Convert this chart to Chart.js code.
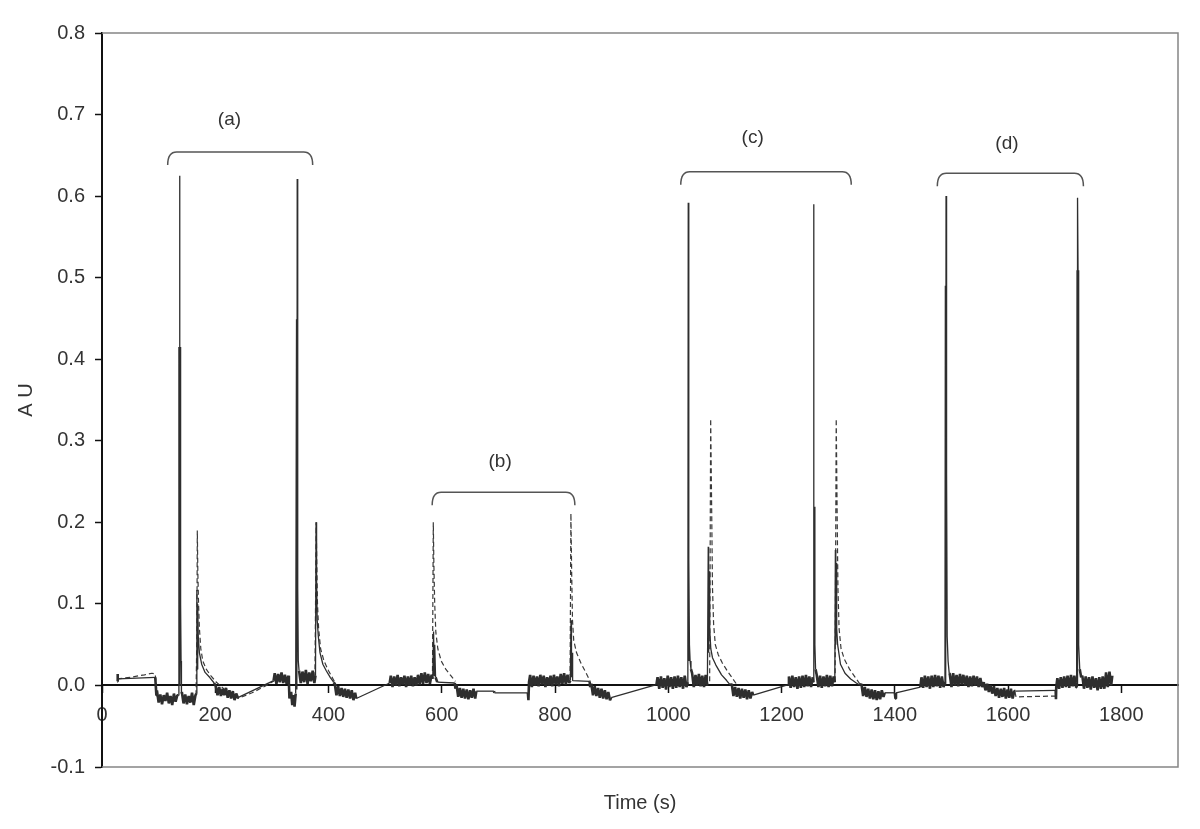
<!DOCTYPE html>
<html><head><meta charset="utf-8">
<script src="https://cdn.jsdelivr.net/npm/chart.js@4/dist/chart.umd.min.js"></script>
<style>html,body{margin:0;padding:0;background:#fff}#wrap{width:1200px;height:829px}</style>
</head><body><div id="wrap"><canvas id="c" width="1200" height="829"></canvas></div>
<script>
// ---- axis ticks ----
const xTicks = [0, 200, 400, 600, 800, 1000, 1200, 1400, 1600, 1800];
const yTicks = [-0.1, 0.0, 0.1, 0.2, 0.3, 0.4, 0.5, 0.6, 0.7, 0.8];

// ---- solid trace [time (s), AU] ----
const solidTrace = [
 [27,0.005],[27.5,0.014],[28,0.008],[94,0.010],[96,-0.012],
 [97,-0.006],[100,-0.021],[103,-0.011],[106,-0.023],[109,-0.012],[112,-0.019],[115,-0.009],[118,-0.022],[121,-0.013],[124,-0.024],[127,-0.010],[130,-0.020],[133,-0.012],
 [134.5,-0.012],[135.8,0.415],[136.4,0.0],[137,0.625],[137.6,0.24],[138.2,0.415],[138.8,0.1],[139.6,0.03],[140.3,-0.01],
 [141,-0.008],[144,-0.022],[147,-0.011],[150,-0.023],[153,-0.013],[156,-0.021],[159,-0.009],[162,-0.024],[165,-0.012],
 [166.5,-0.01],[167.5,0.117],[168.3,0.02],[169,0.1],[170,0.06],[172,0.04],[176,0.026],[182,0.016],[190,0.01],[198,0.003],
 [201,-0.001],[204,-0.012],[207,-0.002],[210,-0.013],[213,-0.004],[216,-0.012],[219,-0.003],[222,-0.015],[225,-0.006],[228,-0.016],[231,-0.007],[234,-0.018],[237,-0.010],
 [240,-0.015],[303,0.006],
 [305,0.015],[308,0.002],[311,0.014],[314,0.004],[317,0.016],[320,0.003],[323,0.013],[326,0.002],[329,0.012],
 [330,0.004],[331,-0.016],
 [334,-0.008],[336,-0.024],[338,-0.012],[340,-0.026],[342,-0.010],
 [343.5,0.449],[344.1,-0.005],[344.7,0.621],[345.3,0.436],[345.9,0.12],[346.6,0.03],
 [348,0.018],[351,0.003],[354,0.017],[357,0.004],[360,0.019],[363,0.002],[366,0.016],[369,0.005],[372,0.018],[375,0.003],
 [377,0.012],[378,0.2],[378.6,0.1],[379.2,0.13],[380,0.08],[382,0.06],[385,0.04],[390,0.026],[396,0.018],[403,0.01],[409,0.004],
 [411,0.002],[414,-0.012],[417,-0.001],[420,-0.013],[423,-0.003],[426,-0.014],[429,-0.004],[432,-0.015],[435,-0.005],[438,-0.016],[441,-0.006],[444,-0.018],[447,-0.009],
 [449,-0.016],[508,0.003],
 [510,0.012],[513,-0.002],[516,0.011],[519,0.0],[522,0.013],[525,-0.001],[528,0.01],[531,0.001],[534,0.012],[537,-0.002],[540,0.011],[543,0.0],[546,0.012],[549,-0.001],[552,0.01],[555,0.0],[558,0.013],[561,0.001],[564,0.015],[567,0.002],[570,0.016],[573,0.003],[576,0.014],[579,0.002],[582,0.013],
 [584,0.008],[585.5,0.066],[586.5,0.012],[587.5,0.05],[589,0.01],[592,0.004],[623,0.003],[624,-0.004],
 [626,0.001],[629,-0.014],[632,-0.003],[635,-0.015],[638,-0.004],[641,-0.016],[644,-0.005],[647,-0.017],[650,-0.006],[653,-0.015],[656,-0.004],[659,-0.016],
 [661,-0.007],[692,-0.007],[693,-0.009],[752,-0.009],[753,-0.018],[754,0.004],
 [756,0.013],[759,-0.002],[762,0.012],[765,0.0],[768,0.011],[771,-0.001],[774,0.013],[777,0.001],[780,0.012],[783,-0.002],[786,0.01],[789,0.0],[792,0.012],[795,-0.001],[798,0.013],[801,0.001],[804,0.011],[807,-0.001],[810,0.014],[813,0.002],[816,0.015],[819,0.001],[822,0.013],[825,0.003],
 [827,0.006],[828.2,0.08],[829,0.01],[830,0.04],[831,0.006],[861,0.005],[862,-0.002],
 [864,0.002],[867,-0.012],[870,-0.001],[873,-0.013],[876,-0.003],[879,-0.015],[882,-0.004],[885,-0.016],[888,-0.006],[891,-0.017],[894,-0.008],[897,-0.018],
 [899,-0.015],[979,0.001],
 [981,0.01],[984,-0.004],[987,0.011],[990,-0.003],[993,0.009],[996,-0.005],[999,0.012],[1002,-0.002],[1005,0.01],[1008,-0.004],[1011,0.011],[1014,-0.003],[1017,0.012],[1020,-0.002],[1023,0.01],[1026,-0.004],[1029,0.012],[1032,-0.002],
 [1034.5,0.004],[1035.2,0.592],[1035.8,0.03],[1036.5,0.154],[1037.3,0.05],[1038.5,0.03],[1040,0.02],
 [1042,0.015],[1045,-0.002],[1048,0.013],[1051,0.0],[1054,0.014],[1057,-0.001],[1060,0.012],[1063,-0.002],[1066,0.013],[1069,0.0],
 [1070.5,0.17],[1071.2,0.04],[1072,0.14],[1073,0.07],[1075,0.045],[1078,0.034],[1084,0.025],[1094,0.013],[1103,0.006],[1110,0.0],
 [1112,0.002],[1115,-0.013],[1118,-0.002],[1121,-0.014],[1124,-0.003],[1127,-0.016],[1130,-0.004],[1133,-0.015],[1136,-0.005],[1139,-0.017],[1142,-0.006],[1145,-0.016],[1148,-0.008],
 [1150,-0.012],[1212,0.001],
 [1213,0.011],[1216,-0.003],[1219,0.012],[1222,-0.002],[1225,0.01],[1228,-0.004],[1231,0.011],[1234,-0.003],[1237,0.012],[1240,-0.002],[1243,0.013],[1246,-0.001],[1249,0.011],[1252,-0.002],[1255,0.01],
 [1256,0.004],[1256.6,0.59],[1257.2,0.04],[1258,0.219],[1258.8,0.05],[1260,0.02],
 [1262,0.013],[1265,-0.002],[1268,0.012],[1271,-0.003],[1274,0.011],[1277,-0.001],[1280,0.013],[1283,-0.002],[1286,0.012],[1289,-0.001],[1292,0.011],
 [1294,0.004],[1295,0.166],[1295.7,0.05],[1296.4,0.15],[1297.3,0.07],[1299,0.05],[1304,0.026],[1312,0.015],[1322,0.008],[1332,0.003],[1339,0.0],
 [1341,0.002],[1344,-0.013],[1347,-0.002],[1350,-0.014],[1353,-0.004],[1356,-0.016],[1359,-0.005],[1362,-0.017],[1365,-0.006],[1368,-0.018],[1371,-0.007],[1374,-0.017],[1377,-0.006],[1380,-0.014],
 [1382,-0.009],[1400,-0.009],[1401,-0.016],[1402,-0.009],[1445,-0.002],
 [1447,0.01],[1450,-0.003],[1453,0.012],[1456,-0.002],[1459,0.011],[1462,-0.004],[1465,0.012],[1468,-0.002],[1471,0.013],[1474,-0.001],[1477,0.012],[1480,-0.003],[1483,0.011],[1486,-0.002],
 [1488.5,0.005],[1489.2,0.49],[1489.8,0.0],[1490.4,0.6],[1491,0.49],[1491.7,0.26],[1492.4,0.06],[1494,0.03],[1496,0.015],
 [1497,0.014],[1500,-0.002],[1503,0.015],[1506,0.0],[1509,0.013],[1512,-0.001],[1515,0.014],[1518,0.001],[1521,0.013],[1524,0.0],[1527,0.012],[1530,-0.002],[1533,0.011],[1536,-0.001],[1539,0.012],[1542,0.0],[1545,0.011],[1548,-0.002],[1551,0.009],[1554,-0.002],
 [1557,0.004],[1560,-0.006],[1563,0.002],[1566,-0.008],[1569,0.0],[1572,-0.01],[1575,-0.001],[1578,-0.013],[1581,-0.003],[1584,-0.015],[1587,-0.004],[1590,-0.014],[1593,-0.003],[1596,-0.016],[1599,-0.005],[1602,-0.015],[1605,-0.004],[1608,-0.016],[1611,-0.007],
 [1613,-0.007],[1684,-0.006],[1684.5,-0.017],[1685,-0.002],
 [1687,0.009],[1690,-0.004],[1693,0.01],[1696,-0.003],[1699,0.011],[1702,-0.002],[1705,0.012],[1708,-0.003],[1711,0.013],[1714,-0.001],[1717,0.012],[1720,-0.002],
 [1721,0.004],[1721.7,0.509],[1722.3,0.0],[1722.9,0.598],[1723.5,0.509],[1724.2,0.14],[1725,0.05],[1726.5,0.02],[1729,0.01],
 [1731,0.012],[1734,-0.004],[1737,0.011],[1740,-0.003],[1743,0.01],[1746,-0.005],[1749,0.011],[1752,-0.003],[1755,0.009],[1758,-0.006],[1761,0.01],[1764,-0.004],[1767,0.011],[1770,-0.004],[1773,0.016],[1776,-0.002],[1779,0.017],[1782,0.0],[1784,0.012]
];

// ---- dashed trace [time (s), AU], null = break ----
const dashedTrace = [
 [27,0.008],[50,0.010],[75,0.013],[88,0.015],[94,0.014],[96,0.0],[97,-0.012],null,
 [166,-0.012],[167.5,0.06],[168.3,0.19],[169.2,0.14],[170.5,0.1],[172,0.07],[174.5,0.045],[178,0.03],[184,0.02],[192,0.012],[202,0.004],[215,-0.004],[228,-0.01],[240,-0.016],[265,-0.009],[293,0.001],[305,0.006],null,
 [376,0.01],[377.3,0.12],[378.2,0.2],[379.3,0.15],[380.5,0.1],[382.5,0.07],[386,0.045],[392,0.03],[400,0.018],[408,0.008],[414,0.0],null,
 [583.5,0.008],[585,0.2],[586,0.15],[587.5,0.1],[589.5,0.065],[593,0.045],[599,0.03],[607,0.02],[616,0.012],[624,0.005],null,
 [826.5,0.008],[828,0.211],[829.3,0.14],[830.8,0.08],[833,0.055],[838,0.04],[846,0.027],[855,0.015],[862,0.005],null,
 [1073,0.005],[1074.8,0.327],[1076.5,0.22],[1078,0.12],[1080,0.075],[1083,0.05],[1088,0.038],[1095,0.028],[1104,0.018],[1112,0.01],[1120,0.002],null,
 [1294.5,0.005],[1296.5,0.327],[1298,0.22],[1299.5,0.12],[1301.5,0.07],[1305,0.045],[1311,0.032],[1320,0.02],[1330,0.01],[1338,0.002],null,
 [1612,-0.008],[1614,-0.014],[1684,-0.013],[1685,-0.006]
];

// ---- bracket annotations ----
const bracketLabels = ['(a)', '(b)', '(c)', '(d)'];
const bracketStart = [116, 583, 1022, 1475];
const bracketEnd = [372, 835, 1323, 1733];
const bracketTop = [0.654, 0.237, 0.630, 0.628];
const labelTime = [225, 703, 1149, 1598];
const labelAU = [0.694, 0.274, 0.672, 0.664];

const toPts = arr => arr.map((p, i) => p ? {x: p[0], y: p[1]} : {x: arr[i - 1][0], y: null});

const FONT = '"Liberation Sans", Arial, sans-serif';

const frame = {
  id: 'frame',
  beforeDatasetsDraw(chart) {
    const {ctx, chartArea: a} = chart;
    ctx.save();
    ctx.strokeStyle = '#858585';
    ctx.lineWidth = 1.5;
    ctx.beginPath();
    ctx.moveTo(a.left, a.top); ctx.lineTo(a.right, a.top);
    ctx.lineTo(a.right, a.bottom); ctx.lineTo(a.left, a.bottom);
    ctx.stroke();
    ctx.restore();
  }
};

const brackets = {
  id: 'brackets',
  afterDatasetsDraw(chart) {
    const {ctx, scales: {x, y}} = chart;
    ctx.save();
    ctx.strokeStyle = '#555';
    ctx.lineWidth = 1.5;
    ctx.fillStyle = '#333';
    ctx.font = '19px ' + FONT;
    ctx.textAlign = 'center';
    ctx.textBaseline = 'middle';
    for (let i = 0; i < bracketLabels.length; i++) {
      const x1 = x.getPixelForValue(bracketStart[i]);
      const x2 = x.getPixelForValue(bracketEnd[i]);
      const yt = y.getPixelForValue(bracketTop[i]);
      const drop = 13, r = 9;
      ctx.beginPath();
      ctx.moveTo(x1, yt + drop);
      ctx.quadraticCurveTo(x1, yt, x1 + r, yt);
      ctx.lineTo(x2 - r, yt);
      ctx.quadraticCurveTo(x2, yt, x2, yt + drop);
      ctx.stroke();
      ctx.fillText(bracketLabels[i], x.getPixelForValue(labelTime[i]), y.getPixelForValue(labelAU[i]));
    }
    ctx.restore();
  }
};

// noisy baseline pieces (short steps, small values) are drawn heavier, like the dense band of the original
const noisyWidth = c => {
  const a = c.p0.parsed, b = c.p1.parsed;
  return (Math.abs(b.x - a.x) <= 3.1 && Math.abs(a.y) < 0.03 && Math.abs(b.y) < 0.03) ? 2.6 : undefined;
};

new Chart(document.getElementById('c'), {
  type: 'line',
  data: {
    datasets: [
      {
        label: 'dashed',
        data: toPts(dashedTrace),
        borderColor: '#3a3a3a',
        borderWidth: 1.2,
        borderDash: [5, 3],
        pointRadius: 0,
        tension: 0,
        spanGaps: false,
        borderJoinStyle: 'bevel',
        order: 2
      },
      {
        label: 'solid',
        data: toPts(solidTrace),
        borderColor: '#2e2e2e',
        borderWidth: 1.3,
        segment: {borderWidth: noisyWidth},
        pointRadius: 0,
        tension: 0,
        spanGaps: false,
        borderJoinStyle: 'bevel',
        order: 1
      }
    ]
  },
  options: {
    responsive: false,
    devicePixelRatio: 1,
    animation: false,
    layout: {padding: {top: 33, right: 22, bottom: 0, left: 0}},
    plugins: {legend: {display: false}, tooltip: {enabled: false}},
    scales: {
      x: {
        type: 'linear',
        position: {y: 0},
        min: 0, max: 1900,
        afterBuildTicks: s => { s.ticks = xTicks.map(v => ({value: v})); },
        ticks: {color: '#333', font: {family: FONT, size: 20}, padding: 11, maxRotation: 0, autoSkip: false, callback: v => String(v)},
        grid: {drawOnChartArea: false, tickLength: 7, tickColor: '#111', tickWidth: 1.5},
        border: {color: '#111', width: 2}
      },
      x2: {
        type: 'linear',
        position: 'bottom',
        min: 0, max: 1900,
        afterFit: s => { s.height = 62; },
        ticks: {display: false},
        grid: {display: false},
        border: {display: false},
        title: {display: true, text: 'Time (s)', color: '#333', font: {family: FONT, size: 20}, padding: {top: 0, bottom: 14}}
      },
      y: {
        type: 'linear',
        position: 'left',
        min: -0.1, max: 0.8,
        afterFit: s => { s.width = 102; },
        afterBuildTicks: s => { s.ticks = yTicks.map(v => ({value: v})); },
        ticks: {color: '#333', font: {family: FONT, size: 20}, padding: 10, callback: v => Number(v).toFixed(1)},
        grid: {drawOnChartArea: false, tickLength: 7, tickColor: '#111', tickWidth: 1.5},
        border: {color: '#111', width: 2},
        title: {display: true, text: 'A U', color: '#333', font: {family: FONT, size: 20}, padding: {top: 14, bottom: 0}}
      }
    }
  },
  plugins: [frame, brackets]
});
</script>
</body></html>
